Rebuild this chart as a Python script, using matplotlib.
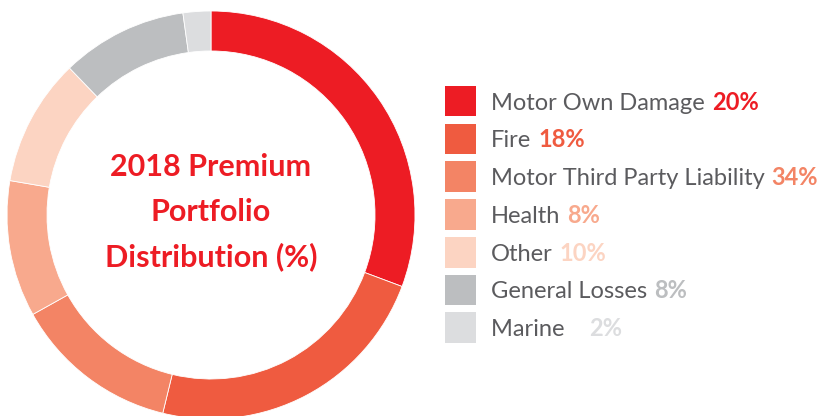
import matplotlib
matplotlib.use('Agg')
import matplotlib.pyplot as plt
from matplotlib.patches import Rectangle

# slice sizes as drawn in the ring
categories = ['Motor Own Damage', 'Fire', 'Motor Third Party Liability',
              'Health', 'Other', 'General Losses', 'Marine']
ring_values = [30.7, 23.1, 13.1, 10.8, 10.1, 10.0, 2.2]
# percentages printed in the legend
legend_pcts = ['20%', '18%', '34%', '8%', '10%', '8%', '2%']
colors = ['#ED1C24', '#EF5B40', '#F38465', '#F8A98D', '#FCD4C2', '#BCBEC0', '#DCDDDF']
title_lines = ['2018 Premium', 'Portfolio', 'Distribution (%)']

W, H = 821, 416
plt.rcParams['font.family'] = ['Lato', 'DejaVu Sans']

fig = plt.figure(figsize=(W / 100, H / 100), dpi=100)

# donut, centre at (211, 215) px, outer radius 204 px
cx, cy, r = 211, 215, 204
ax = fig.add_axes([(cx - r) / W, (H - cy - r) / H, 2 * r / W, 2 * r / H])
ax.pie(ring_values, colors=colors, startangle=90, counterclock=False,
       radius=1, wedgeprops=dict(width=0.196, edgecolor='white', linewidth=0.6))
ax.set_xlim(-1, 1)
ax.set_ylim(-1, 1)
ax.set_aspect('equal')
ax.axis('off')

# overlay in pixel coordinates for the title and legend
lay = fig.add_axes([0, 0, 1, 1])
lay.set_xlim(0, W)
lay.set_ylim(H, 0)
lay.axis('off')

for i, line in enumerate(title_lines):
    lay.text(cx, 167 + 45 * i, line, ha='center', va='center', fontsize=22,
             fontweight='bold', color='#ED1C24')

for i, (name, pct, col) in enumerate(zip(categories, legend_pcts, colors)):
    y = 101 + 37.8 * i
    lay.add_patch(Rectangle((445, y - 15.3), 30.7, 30.7, color=col, lw=0))
    label = name + ('   ' if name == 'Marine' else '')
    t = lay.text(491, y, label, ha='left', va='center_baseline', fontsize=17,
                 color='#5B5B5E')
    lay.annotate(pct, xy=(1, 0), xycoords=t, xytext=(5, 0),
                 textcoords='offset points', ha='left', va='bottom',
                 fontsize=17, fontweight='bold', color=col)

fig.savefig('out.png', dpi=100)
